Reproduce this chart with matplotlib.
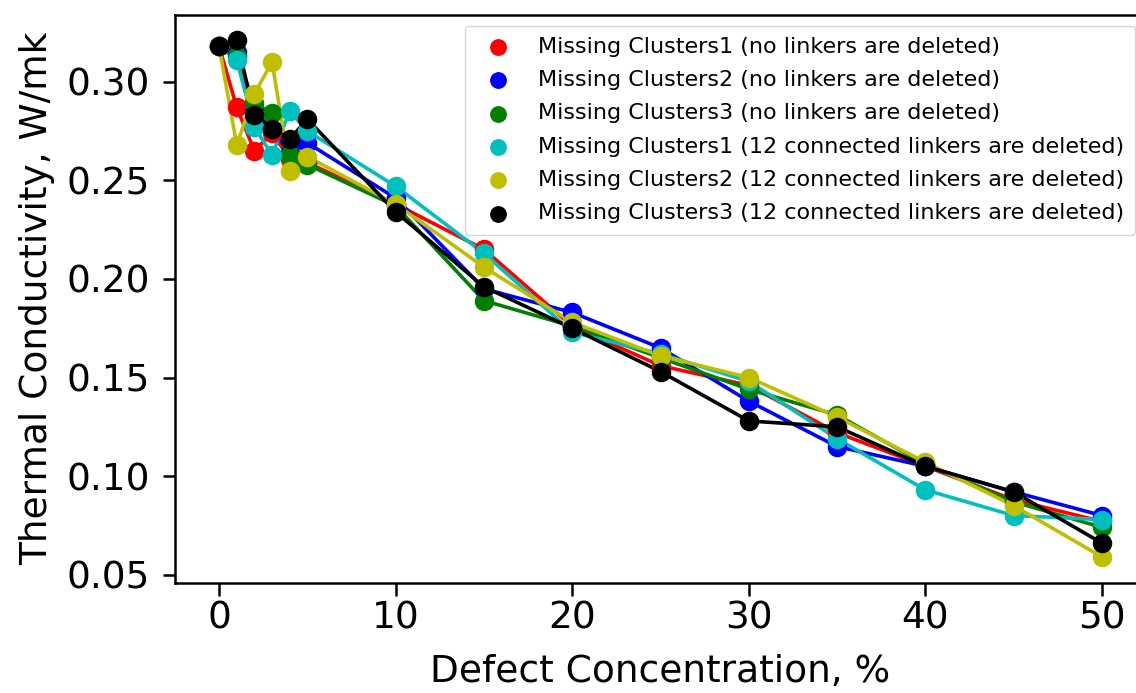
import matplotlib
matplotlib.use("Agg")
import matplotlib.pyplot as plt

# defect concentration, %
conc = [0, 1, 2, 3, 4, 5, 10, 15, 20, 25, 30, 35, 40, 45, 50]

# thermal conductivity, W/mK
mc1_none = [0.318, 0.287, 0.265, 0.274, 0.261, 0.259, 0.238, 0.215, 0.176, 0.156, 0.146, 0.122, 0.105, 0.088, 0.077]
mc2_none = [0.318, 0.315, 0.285, 0.276, 0.264, 0.269, 0.241, 0.195, 0.183, 0.165, 0.138, 0.115, 0.105, 0.092, 0.080]
mc3_none = [0.318, 0.313, 0.289, 0.284, 0.263, 0.258, 0.237, 0.189, 0.176, 0.160, 0.144, 0.131, 0.106, 0.087, 0.074]
mc1_12 = [0.318, 0.311, 0.277, 0.263, 0.285, 0.275, 0.247, 0.213, 0.173, 0.162, 0.148, 0.119, 0.093, 0.080, 0.078]
mc2_12 = [0.318, 0.268, 0.294, 0.310, 0.255, 0.262, 0.238, 0.206, 0.178, 0.161, 0.150, 0.130, 0.107, 0.085, 0.059]
mc3_12 = [0.318, 0.321, 0.283, 0.276, 0.271, 0.281, 0.234, 0.196, 0.175, 0.153, 0.128, 0.125, 0.105, 0.092, 0.066]

series = [
    (mc1_none, "r", "Missing Clusters1 (no linkers are deleted)"),
    (mc2_none, "b", "Missing Clusters2 (no linkers are deleted)"),
    (mc3_none, "g", "Missing Clusters3 (no linkers are deleted)"),
    (mc1_12, "c", "Missing Clusters1 (12 connected linkers are deleted)"),
    (mc2_12, "y", "Missing Clusters2 (12 connected linkers are deleted)"),
    (mc3_12, "k", "Missing Clusters3 (12 connected linkers are deleted)"),
]

fig = plt.figure(figsize=(11.36, 6.93), dpi=100)
# axes run past the right edge of the figure, like the cropped original
ax = fig.add_axes([0.154, 0.159, 0.855, 0.820])

for vals, col, lab in series:
    ax.plot(conc, vals, color=col, lw=2.6)
    ax.scatter(conc, vals, color=col, s=170, label=lab, zorder=3)

ax.margins(x=0.05, y=0.05)
ax.set_xticks([0, 10, 20, 30, 40, 50])
ax.set_yticks([0.05, 0.10, 0.15, 0.20, 0.25, 0.30])
ax.set_xlabel("Defect Concentration, %", fontsize=27, labelpad=13)
ax.set_ylabel("Thermal Conductivity, W/mk", fontsize=27, labelpad=8)
ax.tick_params(axis="x", labelsize=27, width=1.8, length=9, pad=3.5)
ax.tick_params(axis="y", labelsize=27, width=1.8, length=9, pad=9)
for sp in ax.spines.values():
    sp.set_linewidth(1.8)

ax.legend(loc="upper right", fontsize=16, handletextpad=0.8, borderpad=0.5,
          labelspacing=0.6, markerscale=0.85)

fig.savefig("out.png", dpi=100)
